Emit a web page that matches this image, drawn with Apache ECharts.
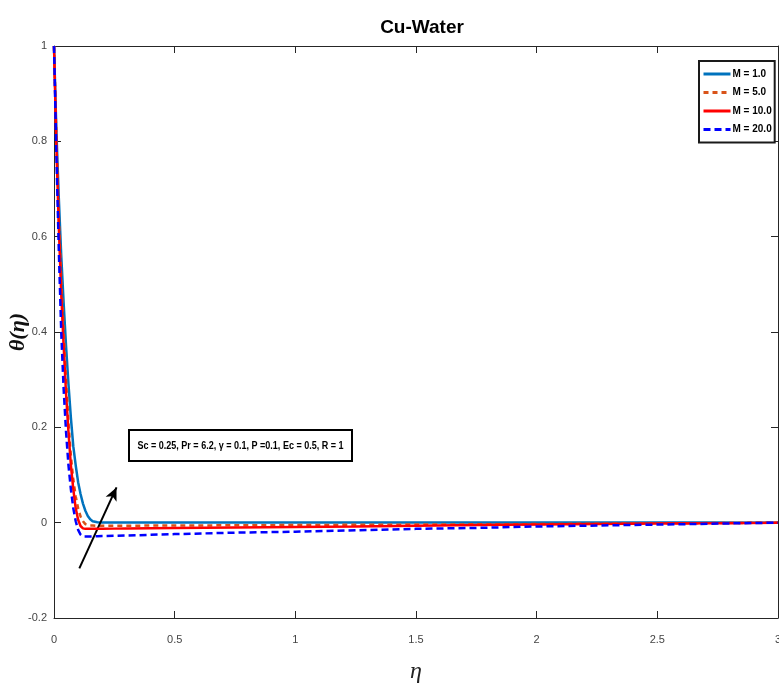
<!DOCTYPE html>
<html>
<head>
<meta charset="utf-8">
<script src="https://cdn.jsdelivr.net/npm/echarts@6/dist/echarts.min.js"></script>
<style>html,body{margin:0;padding:0;background:#fff;}#c{width:779px;height:689px;}</style>
</head>
<body>
<div id="c"></div>
<script>
// eta grid (x values)
var eta = [0, 0.01, 0.02, 0.03, 0.04, 0.05, 0.06, 0.07, 0.08, 0.09, 0.10, 0.11, 0.12, 0.13, 0.14, 0.15, 0.16, 0.18, 0.20, 0.25, 0.30, 0.40, 0.50, 0.75, 1.00, 1.25, 1.50, 1.75, 2.00, 2.25, 2.50, 2.75, 3.00];
// theta(eta) for each M
var thetaM1  = [1, 0.82, 0.68, 0.56, 0.46, 0.37, 0.29, 0.22, 0.16, 0.12, 0.085, 0.06, 0.04, 0.025, 0.014, 0.007, 0.003, 0.001, 0.0005, 0.0003, 0.0002, 0.0001, 0.0001, 0.0001, 0.0001, 0.0001, 0.0001, 0.0001, 0.0001, 0.0001, 0.0001, 0.0001, 0];
var thetaM5  = [1, 0.80, 0.64, 0.51, 0.40, 0.30, 0.21, 0.14, 0.09, 0.055, 0.03, 0.013, 0.003, -0.003, -0.005, -0.006, -0.006, -0.0065, -0.0065, -0.0065, -0.0065, -0.006, -0.006, -0.0055, -0.005, -0.0045, -0.004, -0.0035, -0.003, -0.0022, -0.0015, -0.0008, 0];
var thetaM10 = [1, 0.79, 0.62, 0.48, 0.37, 0.27, 0.19, 0.12, 0.07, 0.03, 0.006, -0.007, -0.012, -0.013, -0.013, -0.013, -0.013, -0.013, -0.013, -0.0125, -0.012, -0.0115, -0.011, -0.010, -0.009, -0.008, -0.0065, -0.005, -0.004, -0.003, -0.002, -0.001, 0];
var thetaM20 = [1, 0.77, 0.57, 0.40, 0.28, 0.19, 0.12, 0.07, 0.03, 0.003, -0.015, -0.025, -0.029, -0.029, -0.029, -0.029, -0.029, -0.0285, -0.028, -0.0275, -0.027, -0.0255, -0.024, -0.021, -0.019, -0.016, -0.013, -0.011, -0.008, -0.006, -0.004, -0.002, 0];
var seriesNames = ['M = 1.0', 'M = 5.0', 'M = 10.0', 'M = 20.0'];
var xTicks = [0, 3, 0.5];
var yTicks = [-0.2, 1, 0.2];
var arrowFrom = [0.105, -0.096];
var arrowTo = [0.259, 0.074];
var noteText = 'Sc = 0.25, Pr = 6.2, \u03b3 = 0.1, P =0.1, Ec = 0.5, R = 1';

function zip(xs, ys) { return xs.map(function (x, i) { return [x, ys[i]]; }); }

var sans = "'Liberation Sans', Arial, sans-serif";
var axisCol = '#262626';

var chart = echarts.init(document.getElementById('c'));
var baseX = {
  type: 'value', min: xTicks[0], max: xTicks[1], interval: xTicks[2],
  axisLine: { show: true, onZero: false, lineStyle: { color: axisCol, width: 1 } },
  axisTick: { show: true, inside: true, length: 7, lineStyle: { color: axisCol } },
  splitLine: { show: false }
};
var baseY = {
  type: 'value', min: yTicks[0], max: yTicks[1], interval: yTicks[2],
  axisLine: { show: true, onZero: false, lineStyle: { color: axisCol, width: 1 } },
  axisTick: { show: true, inside: true, length: 7, lineStyle: { color: axisCol } },
  splitLine: { show: false }
};

chart.setOption({
  animation: false,
  backgroundColor: '#fff',
  title: {
    text: 'Cu-Water', left: 417, top: 13, textAlign: 'center',
    textStyle: { fontFamily: sans, fontWeight: 'bold', fontSize: 19, color: '#000' }
  },
  grid: { left: 54, right: 1, top: 46, bottom: 71, containLabel: false, outerBoundsMode: 'none' },
  legend: {
    data: seriesNames, orient: 'vertical', left: 699, top: 61,
    itemWidth: 27, itemHeight: 11, itemGap: 8.5,
    padding: [8, 3, 8, 3],
    borderColor: '#1a1a1a', borderWidth: 2, backgroundColor: '#fff',
    itemStyle: { opacity: 0 },
    lineStyle: { width: 3 },
    textStyle: { fontFamily: sans, fontWeight: 'bold', fontSize: 10, color: '#000', padding: [0, 0, 0, -3] }
  },
  xAxis: [
    Object.assign({}, baseX, {
      position: 'bottom',
      name: '\u03b7', nameLocation: 'middle', nameGap: 42, nameMoveOverlap: false,
      nameTextStyle: { fontFamily: "'Liberation Serif', serif", fontStyle: 'italic', fontSize: 24, color: '#222' },
      axisLabel: { margin: 16, fontFamily: sans, fontSize: 11, color: '#444' }
    }),
    Object.assign({}, baseX, { position: 'top', axisLabel: { show: false } })
  ],
  yAxis: [
    Object.assign({}, baseY, {
      position: 'left',
      name: '\u03b8(\u03b7)', nameLocation: 'middle', nameGap: 25, nameRotate: 90, nameMoveOverlap: false,
      nameTextStyle: { fontFamily: "'Liberation Serif', serif", fontStyle: 'italic', fontWeight: 'bold', fontSize: 22, color: '#111' },
      axisLabel: { margin: 7, fontFamily: sans, fontSize: 11, color: '#444' }
    }),
    Object.assign({}, baseY, { position: 'right', axisLabel: { show: false } })
  ],
  series: [
    { name: seriesNames[0], type: 'line', data: zip(eta, thetaM1), showSymbol: false, symbol: 'none',
      lineStyle: { color: '#0072BD', width: 2.5 }, itemStyle: { color: '#0072BD' }, z: 3 },
    { name: seriesNames[1], type: 'line', data: zip(eta, thetaM5), showSymbol: false, symbol: 'none',
      lineStyle: { color: '#D95319', width: 2.5, type: [5, 4] }, itemStyle: { color: '#D95319' }, z: 4 },
    { name: seriesNames[2], type: 'line', data: zip(eta, thetaM10), showSymbol: false, symbol: 'none',
      lineStyle: { color: '#FF0000', width: 2.5 }, itemStyle: { color: '#FF0000' }, z: 5,
      markLine: {
        silent: true, symbol: ['none', 'arrow'], symbolSize: [9, 13],
        lineStyle: { color: '#000', width: 2, type: 'solid' }, label: { show: false },
        data: [[{ coord: arrowFrom }, { coord: arrowTo }]]
      } },
    { name: seriesNames[3], type: 'line', data: zip(eta, thetaM20), showSymbol: false, symbol: 'none',
      lineStyle: { color: '#0000FF', width: 2.5, type: [7, 4] }, itemStyle: { color: '#0000FF' }, z: 6 }
  ],
  graphic: [{
    type: 'group', left: 128, top: 429,
    children: [
      { type: 'rect', shape: { x: 0, y: 0, width: 223, height: 31 }, style: { fill: '#fff', stroke: '#000', lineWidth: 2 } },
      { type: 'text', x: 111.5, y: 15.5, scaleX: 0.82, style: { text: noteText, align: 'center', verticalAlign: 'middle', fontFamily: sans, fontWeight: 'bold', fontSize: 11, fill: '#000' } }
    ]
  }]
});
</script>
</body>
</html>
